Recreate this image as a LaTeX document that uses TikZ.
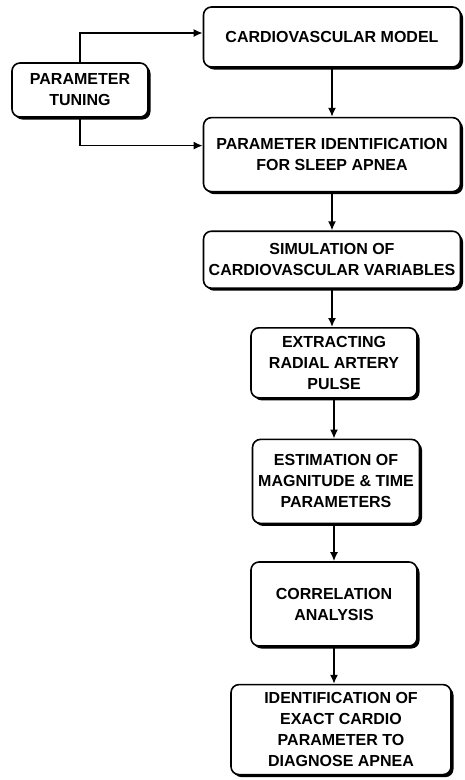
\documentclass[tikz,border=0pt]{standalone}
\usepackage{fontspec}
\setmainfont{Liberation Sans}
\usetikzlibrary{positioning,shadows,arrows.meta}

\begin{document}
\begin{tikzpicture}
		[
			x=1pt, y=1pt,
			node distance=38pt,
			box/.style={draw, rectangle, rounded corners=8pt, line width=1.6pt, fill=white, align=center, inner sep=2pt,
				font=\fontsize{16}{21}\selectfont\bfseries,
				drop shadow={shadow xshift=2.5pt, shadow yshift=-2.5pt, fill=black, opacity=1}},
			arrow/.style={draw, -{Latex[length=9pt, width=8pt]}, line width=1.6pt}
		]
		\useasboundingbox (0,0) rectangle (465,-780);

		\node (model) [box, minimum width=257pt, minimum height=60pt] at (332,-37) {CARDIOVASCULAR MODEL};
		\node (tuning) [box, minimum width=136pt, minimum height=54pt] at (80,-90) {PARAMETER\\TUNING};
		\node (ident) [box, minimum width=257pt, minimum height=74pt, below=49pt of model] {PARAMETER IDENTIFICATION\\FOR SLEEP APNEA};
		\node (simul) [box, minimum width=257pt, minimum height=57pt, below=of ident] {SIMULATION OF\\CARDIOVASCULAR VARIABLES};
		\node (pulse) [box, minimum width=166pt, minimum height=70pt, below=of simul, xshift=2pt] {EXTRACTING\\RADIAL ARTERY\\PULSE};
		\node (estim) [box, minimum width=167pt, minimum height=84pt, below=40pt of pulse, xshift=2pt] {ESTIMATION OF\\MAGNITUDE \& TIME\\PARAMETERS};
		\node (corr) [box, minimum width=166pt, minimum height=84pt, below=37pt of estim, xshift=-2pt] {CORRELATION\\ANALYSIS};
		\node (diag) [box, minimum width=220pt, minimum height=90pt, below=37pt of corr, xshift=7pt] {IDENTIFICATION OF\\EXACT CARDIO\\PARAMETER TO\\DIAGNOSE APNEA};

		\draw[arrow] (tuning.north) |- ([yshift=4pt]model.west);
		\draw[arrow] (tuning.south) |- ([yshift=9pt]ident.west);
		\draw[arrow] (model.south -| ident.north) -- (ident.north);
		\draw[arrow] (ident) -- (simul);
		\draw[arrow] (simul.south) -- (simul.south |- pulse.north);
		\draw[arrow] (pulse.south) -- (pulse.south |- estim.north);
		\draw[arrow] (estim.south -| corr.north) -- (corr.north);
		\draw[arrow] (corr.south) -- (corr.south |- diag.north);
	\end{tikzpicture}
\end{document}
